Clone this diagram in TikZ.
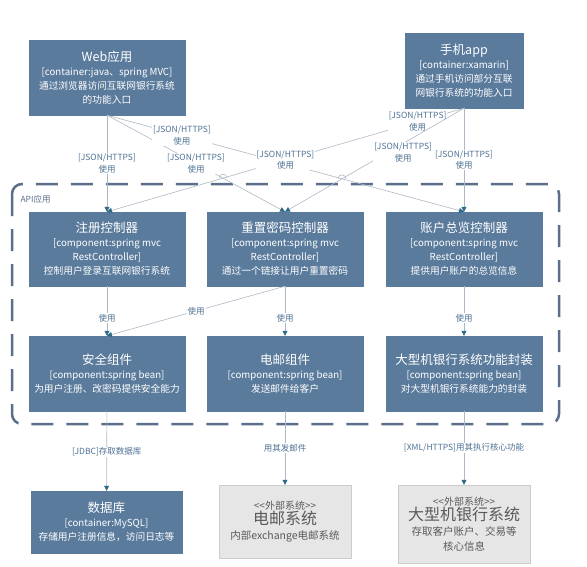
\documentclass[tikz,border=0pt]{standalone}
\usepackage{fontspec}
\setmainfont{Noto Sans CJK SC}
\usetikzlibrary{arrows.meta,calc,intersections}
\usepackage{xcolor}
\definecolor{cfBox}{HTML}{5A7B9C}
\definecolor{cfExt}{HTML}{E6E6E6}
\definecolor{cfExtLine}{HTML}{CCCCCC}
\definecolor{cfExtInk}{HTML}{5A5A5A}
\definecolor{cfWire}{HTML}{AEB8C4}
\definecolor{cfTip}{HTML}{2D6A8A}
\definecolor{cfLabel}{HTML}{4F7294}
\definecolor{cfFrame}{HTML}{5B6F8A}
\newcommand\boxttl{\fontsize{12.5}{17}\selectfont}
\newcommand\extttl{\fontsize{16}{21}\selectfont}
\newcommand\jsonuse{[JSON/HTTPS]\\使用}
\newcommand\exttag{{\fontsize{10}{13}\selectfont <{}<外部系统>{}>}}
\tikzset{
  cbox/.style={draw=cfBox, fill=cfBox, text=white, minimum width=156pt, minimum height=75pt, inner sep=2pt, align=center, font=\fontsize{9.7}{14}\selectfont},
  ebox/.style={draw=cfExtLine, fill=cfExt, text=cfExtInk, minimum width=132pt, inner sep=2pt, align=center, font=\fontsize{10.5}{15}\selectfont},
  wire/.style={draw=cfWire, line width=0.6pt, -{Triangle[length=5pt,width=5pt,color=cfTip]}},
  lbl/.style={fill=white, inner sep=1pt, text=cfLabel, align=center, font=\fontsize{8.5}{11.5}\selectfont},
  frame/.style={draw=cfFrame, line width=2.5pt, dash pattern=on 22pt off 13pt, rounded corners=10pt},
}

\begin{document}
\begin{tikzpicture}[x=1pt, y=-1pt]
    \useasboundingbox (0,0) rectangle (587,566);
    % API frame
    \draw[frame] (12,184) rectangle (559,424);
    \node[anchor=west, text=cfFrame, font=\fontsize{8.5}{10}\selectfont] (apilbl) at (17,199) {API应用};

    % containers
    \node[cbox] (web) at (107,77.5) {{\boxttl Web应用}\\{[}container:java、spring MVC{]}\\通过浏览器访问互联网银行系统\\的功能入口};
    \node[cbox, minimum width=118pt] (app) at (464,70.5) {{\boxttl 手机app}\\{[}container:xamarin{]}\\通过手机访问部分互联\\网银行系统的功能入口};

    % components
    \node[cbox, minimum height=74pt] (zc) at (107,249) {{\boxttl 注册控制器}\\{[}component:spring mvc\\RestController{]}\\控制用户登录互联网银行系统};
    \node[cbox, minimum height=74pt] (rc) at (285,249) {{\boxttl 重置密码控制器}\\{[}component:spring mvc\\RestController{]}\\通过一个链接让用户重置密码};
    \node[cbox, minimum height=74pt] (ac) at (464,249) {{\boxttl 账户总览控制器}\\{[}component:spring mvc\\RestController{]}\\提供用户账户的总览信息};
    \node[cbox] (sc) at (107,373.5) {{\boxttl 安全组件}\\{[}component:spring bean{]}\\为用户注册、改密码提供安全能力};
    \node[cbox] (ec) at (285,373.5) {{\boxttl 电邮组件}\\{[}component:spring bean{]}\\发送邮件给客户};
    \node[cbox] (mc) at (464,373.5) {{\boxttl 大型机银行系统功能封装}\\{[}component:spring bean{]}\\对大型机银行系统能力的封装};

    % stores and outside systems
    \node[cbox, minimum width=151pt, minimum height=62pt] (db) at (106.5,522) {{\boxttl 数据库}\\{[}container:MySQL{]}\\存储用户注册信息，访问日志等};
    \node[ebox, minimum height=73pt] (es) at (285,521.5) {\exttag\\{\extttl 电邮系统}\\内部exchange电邮系统};
    \node[ebox, minimum height=78pt] (ms) at (464,524) {\exttag\\{\extttl 大型机银行系统}\\存取客户账户、交易等\\核心信息};

    % connectors
    \draw[wire] (web.south) -- (zc.north) node[lbl, pos=.5] {\jsonuse};
    \draw[wire, name path=wr] (web.south) -- (rc.north) node[lbl, pos=.5] {\jsonuse};
    \draw[wire, name path=wa] (web.south) -- (ac.north) node[lbl, pos=.21] {\jsonuse};
    \draw[wire, name path=az] (app.south) -- (zc.north) node[lbl, pos=.13] {\jsonuse} node[lbl, pos=.5] {\jsonuse};
    \draw[wire, name path=ar] (app.south) -- (rc.north) node[lbl, pos=.34, yshift=-9pt] {\jsonuse};
    \draw[wire] (app.south) -- (ac.north) node[lbl, pos=.5] {\jsonuse};
    \path[name intersections={of=wr and az, by=hopa}];
    \path[name intersections={of=wa and ar, by=hopb}];
    \draw[cfWire, line width=0.6pt] ($(hopa)+(-4,0)$) arc[start angle=180, end angle=0, radius=4pt];
    \draw[cfWire, line width=0.6pt] ($(hopb)+(-4,0)$) arc[start angle=180, end angle=0, radius=4pt];

    \draw[wire] (zc) -- (sc) node[lbl, pos=.64] {使用};
    \draw[wire] (rc.south) -- (sc.north) node[lbl, pos=.5] {使用};
    \draw[wire] (rc) -- (ec) node[lbl, pos=.64] {使用};
    \draw[wire] (ac) -- (mc) node[lbl, pos=.64] {使用};
    \draw[wire] (sc) -- (db) node[lbl, pos=.51] {[JDBC]存取数据库};
    \draw[wire] (ec) -- (es) node[lbl, pos=.5] {用其发邮件};
    \draw[wire] (mc) -- (ms) node[lbl, pos=.5] {[XML/HTTPS]用其执行核心功能};
\end{tikzpicture}
\end{document}
